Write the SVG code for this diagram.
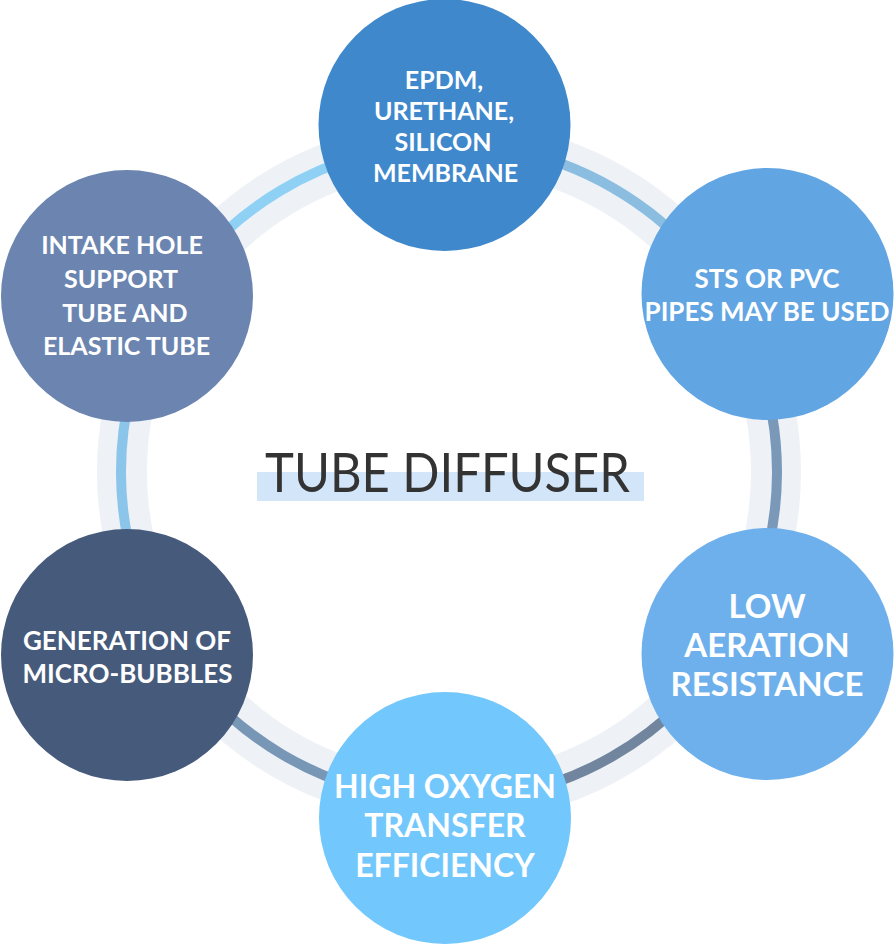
<svg xmlns="http://www.w3.org/2000/svg" width="894" height="944" viewBox="0 0 894 944">
<style>
.node text{font-family:Lato,"Noto Sans","DejaVu Sans",sans-serif;font-weight:700;fill:#ffffff;text-anchor:middle}
.seg{fill:none;stroke-width:10}
.title{font-family:Lato,"Noto Sans","DejaVu Sans",sans-serif;font-weight:400;fill:#333333;font-size:55px}
</style>
<rect width="894" height="944" fill="#ffffff"/>
<circle cx="449" cy="472" r="327" fill="none" stroke="#eef2f6" stroke-width="50"/>
<g id="connectors">
<path class="seg" stroke="#8fd0f5" d="M161.3,314.5 A328,328 0 0 1 445,144"/>
<path class="seg" stroke="#8bbde0" d="M445,144 A328,328 0 0 1 735.3,312"/>
<path class="seg" stroke="#7a98b8" d="M735.3,312 A328,328 0 0 1 733.9,634.5"/>
<path class="seg" stroke="#71859f" d="M733.9,634.5 A328,328 0 0 1 445,800"/>
<path class="seg" stroke="#7896b6" d="M445,800 A328,328 0 0 1 163.8,634"/>
<path class="seg" stroke="#8cc5ea" d="M163.8,634 A328,328 0 0 1 161.3,314.5"/>
</g>
<g id="title">
<rect x="257" y="472" width="387" height="29" fill="#d3e5f8"/>
<text class="title" x="265" y="492" textLength="365" lengthAdjust="spacingAndGlyphs">TUBE DIFFUSER</text>
</g>
<g id="node-membrane" class="node">
<circle cx="444.5" cy="125" r="126" fill="#3f88cc"/>
<text font-size="25"><tspan x="444" y="89">EPDM,</tspan><tspan x="444" y="120">URETHANE,</tspan><tspan x="443" y="151">SILICON</tspan><tspan x="445.5" y="182">MEMBRANE</tspan></text>
</g>
<g id="node-pipes" class="node">
<circle cx="767.5" cy="294" r="126" fill="#62a5e3"/>
<text font-size="26"><tspan x="767" y="288">STS OR PVC</tspan><tspan x="767" y="321">PIPES MAY BE USED</tspan></text>
</g>
<g id="node-resistance" class="node">
<circle cx="767.5" cy="654" r="126" fill="#6eb0ec"/>
<text font-size="33"><tspan x="767" y="618">LOW</tspan><tspan x="767" y="657">AERATION</tspan><tspan x="767" y="696">RESISTANCE</tspan></text>
</g>
<g id="node-oxygen" class="node">
<circle cx="445" cy="818" r="126" fill="#72c8fc"/>
<text font-size="32"><tspan x="445" y="798">HIGH OXYGEN</tspan><tspan x="445" y="837">TRANSFER</tspan><tspan x="445" y="877">EFFICIENCY</tspan></text>
</g>
<g id="node-bubbles" class="node">
<circle cx="127" cy="655" r="126" fill="#465a7c"/>
<text font-size="26"><tspan x="127" y="650">GENERATION OF</tspan><tspan x="127.5" y="683">MICRO-BUBBLES</tspan></text>
</g>
<g id="node-intake" class="node">
<circle cx="127" cy="296" r="126" fill="#6b85b0"/>
<text font-size="25"><tspan x="122" y="254">INTAKE HOLE</tspan><tspan x="121" y="288">SUPPORT</tspan><tspan x="125" y="322">TUBE AND</tspan><tspan x="126.5" y="355">ELASTIC TUBE</tspan></text>
</g>
</svg>
